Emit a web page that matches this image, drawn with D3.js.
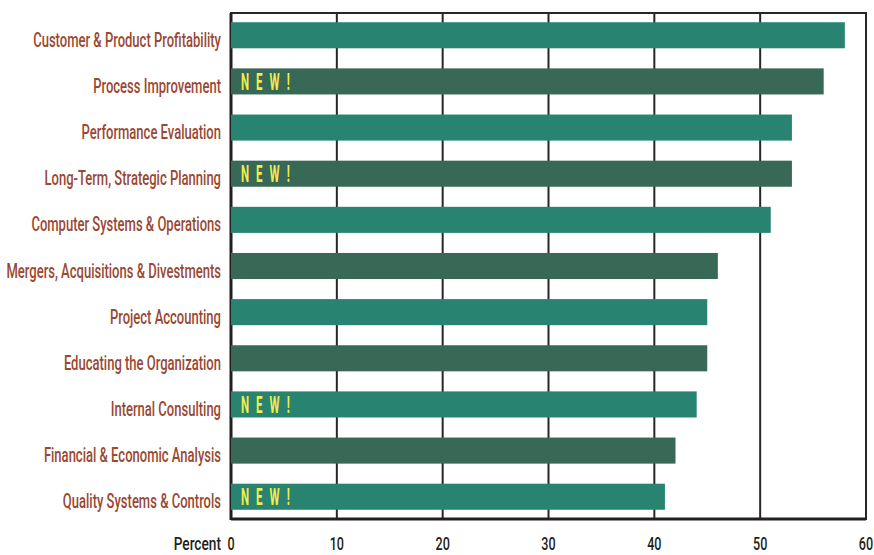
<!DOCTYPE html>
<html><head><meta charset="utf-8">
<script src="https://cdn.jsdelivr.net/npm/d3@7"></script>
<style>
html,body{margin:0;padding:0;background:#fff;}
svg{display:block;}
</style></head>
<body>
<svg id="c" width="874" height="555"></svg>
<script>
const categories = [
  "Customer & Product Profitability",
  "Process Improvement",
  "Performance Evaluation",
  "Long-Term, Strategic Planning",
  "Computer Systems & Operations",
  "Mergers, Acquisitions & Divestments",
  "Project Accounting",
  "Educating the Organization",
  "Internal Consulting",
  "Financial & Economic Analysis",
  "Quality Systems & Controls"
];
const values = [58, 56, 53, 53, 51, 46, 45, 45, 44, 42, 41];
const isNew = [false, true, false, true, false, false, false, false, true, false, true];
const xTicks = [0, 10, 20, 30, 40, 50, 60];

const svg = d3.select("#c");
const L = 231, R = 866, T = 13, B = 519;
const x = d3.scaleLinear().domain([0, 60]).range([L, R]);
const y = d3.scaleBand().domain(categories).range([T, B]).paddingInner(0.435).paddingOuter(0.2);

const font = "Roboto, 'DejaVu Sans', sans-serif";

// gridlines
svg.append("g").selectAll("line").data(xTicks.slice(1, -1)).join("line")
  .attr("x1", d => x(d)).attr("x2", d => x(d))
  .attr("y1", T).attr("y2", B)
  .attr("stroke", "#2a2526").attr("stroke-width", 2);

// frame
svg.append("rect").attr("x", L).attr("y", T).attr("width", R - L).attr("height", B - T)
  .attr("fill", "none").attr("stroke", "#2a2526").attr("stroke-width", 2);
svg.append("line").attr("x1", L).attr("x2", L).attr("y1", T).attr("y2", B + 1)
  .attr("stroke", "#231f20").attr("stroke-width", 3);
svg.append("line").attr("x1", L).attr("x2", R).attr("y1", B).attr("y2", B)
  .attr("stroke", "#231f20").attr("stroke-width", 3);

// bars
svg.append("g").selectAll("rect").data(categories).join("rect")
  .attr("x", x(0))
  .attr("y", d => y(d))
  .attr("width", (d, i) => x(values[i]) - x(0))
  .attr("height", y.bandwidth())
  .attr("fill", (d, i) => i % 2 === 0 ? "#288470" : "#386856");

// NEW! labels (condensed via horizontal scaling)
svg.append("g").selectAll("text").data(categories.filter((d, i) => isNew[i])).join("text")
  .attr("transform", d => `translate(241,${y(d) + y.bandwidth() / 2 + 8.5}) scale(0.5,1)`)
  .attr("fill", "#f2ec4c")
  .attr("font-family", font)
  .attr("font-weight", "bold")
  .attr("font-size", 23)
  .attr("letter-spacing", "14px")
  .text("NEW!");

// category labels (condensed)
const labs = svg.append("g").selectAll("text").data(categories).join("text")
  .attr("text-anchor", "end")
  .attr("fill", "#9a4832")
  .attr("font-family", font)
  .attr("font-weight", 500)
  .attr("font-size", 20)
  .text(d => d);
const w0 = labs.nodes()[0].getComputedTextLength();
const k = 188 / w0;
labs.attr("transform", d => `translate(221,${y(d) + y.bandwidth() / 2 + 11.5}) scale(${k},1)`);

// x axis labels
svg.append("g").selectAll("text").data(xTicks).join("text")
  .attr("transform", d => `translate(${x(d)},550) scale(0.68,1)`)
  .attr("text-anchor", "middle")
  .attr("fill", "#231f20")
  .attr("font-family", font)
  .attr("font-weight", 500)
  .attr("font-size", 18.5)
  .text(d => d);
svg.append("text").attr("transform", "translate(221,550) scale(0.74,1)").attr("text-anchor", "end")
  .attr("fill", "#231f20").attr("font-family", font).attr("font-weight", 500).attr("font-size", 18.5)
  .text("Percent");
</script>
</body></html>
